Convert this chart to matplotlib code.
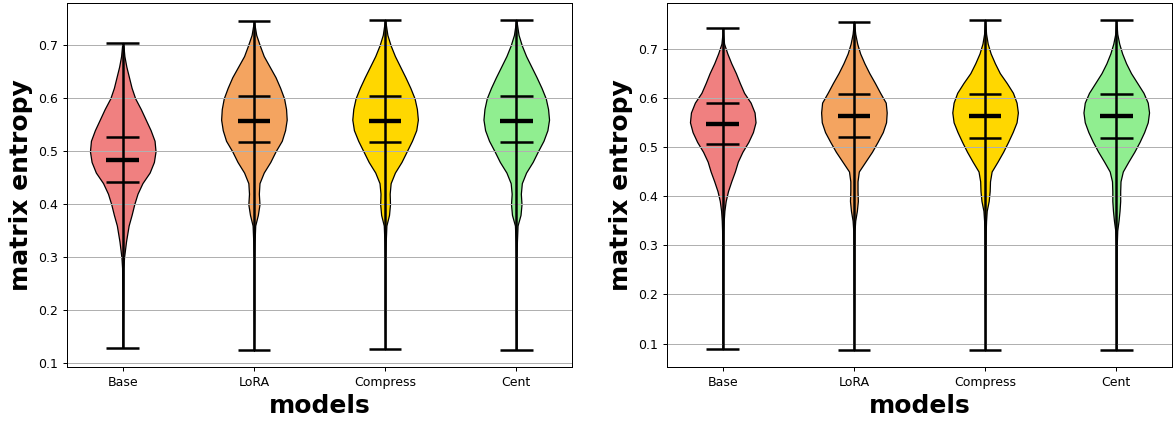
import numpy as np
import matplotlib
matplotlib.use("Agg")
import matplotlib.pyplot as plt

models = ["Base", "LoRA", "Compress", "Cent"]
colors = ["lightcoral", "sandybrown", "gold", "lightgreen"]

# ---- left panel: density profile (relative width) ----
left_coords = [0.125, 0.20, 0.28, 0.30, 0.33, 0.36, 0.38, 0.40, 0.42, 0.44, 0.46, 0.48,
               0.50, 0.52, 0.54, 0.56, 0.58, 0.60, 0.62, 0.64, 0.66, 0.68, 0.70, 0.72, 0.75]
left_base = [0.0, 0.01, 0.02, 0.04, 0.10, 0.18, 0.27, 0.35, 0.45, 0.60, 0.82, 0.95,
             1.00, 0.97, 0.85, 0.70, 0.55, 0.38, 0.27, 0.19, 0.11, 0.05, 0.02, 0.0, 0.0]
left_lora = [0.0, 0.01, 0.01, 0.01, 0.02, 0.04, 0.12, 0.17, 0.15, 0.17, 0.30, 0.50,
             0.66, 0.85, 0.95, 1.00, 0.98, 0.92, 0.80, 0.66, 0.48, 0.30, 0.18, 0.07, 0.0]
left_comp = [0.0, 0.01, 0.01, 0.01, 0.02, 0.04, 0.12, 0.15, 0.14, 0.17, 0.30, 0.50,
             0.66, 0.82, 0.95, 1.00, 0.97, 0.90, 0.77, 0.62, 0.46, 0.30, 0.17, 0.07, 0.0]
left_cent = [0.0, 0.01, 0.01, 0.01, 0.02, 0.04, 0.13, 0.16, 0.14, 0.17, 0.30, 0.50,
             0.66, 0.83, 0.95, 1.00, 0.97, 0.90, 0.77, 0.62, 0.46, 0.30, 0.17, 0.07, 0.0]
left_min = [0.129, 0.124, 0.126, 0.125]
left_max = [0.705, 0.746, 0.749, 0.749]
left_q1 = [0.442, 0.517, 0.517, 0.517]
left_med = [0.484, 0.558, 0.558, 0.558]
left_q3 = [0.527, 0.604, 0.604, 0.604]

# ---- right panel ----
right_coords = [0.086, 0.20, 0.30, 0.33, 0.35, 0.37, 0.39, 0.41, 0.43, 0.45, 0.47, 0.49,
                0.51, 0.53, 0.55, 0.57, 0.59, 0.61, 0.63, 0.65, 0.67, 0.69, 0.71, 0.73, 0.76]
right_base = [0.0, 0.01, 0.015, 0.02, 0.03, 0.05, 0.09, 0.16, 0.26, 0.37, 0.46, 0.60,
              0.78, 0.92, 1.00, 0.97, 0.85, 0.65, 0.52, 0.40, 0.26, 0.14, 0.04, 0.01, 0.0]
right_lora = [0.0, 0.01, 0.015, 0.02, 0.04, 0.09, 0.12, 0.11, 0.11, 0.15, 0.35, 0.55,
              0.72, 0.88, 0.98, 1.00, 0.97, 0.80, 0.64, 0.47, 0.32, 0.19, 0.10, 0.04, 0.0]
right_comp = [0.0, 0.01, 0.015, 0.02, 0.03, 0.05, 0.11, 0.14, 0.15, 0.20, 0.38, 0.55,
              0.70, 0.84, 0.96, 1.00, 0.96, 0.85, 0.66, 0.45, 0.30, 0.17, 0.08, 0.03, 0.0]
right_cent = [0.0, 0.01, 0.015, 0.03, 0.07, 0.10, 0.12, 0.12, 0.13, 0.20, 0.37, 0.55,
              0.71, 0.85, 0.96, 1.00, 0.96, 0.83, 0.64, 0.45, 0.30, 0.18, 0.09, 0.03, 0.0]
right_min = [0.088, 0.086, 0.086, 0.086]
right_max = [0.742, 0.755, 0.759, 0.758]
right_q1 = [0.506, 0.520, 0.519, 0.519]
right_med = [0.547, 0.562, 0.562, 0.562]
right_q3 = [0.589, 0.608, 0.608, 0.608]


def make_stats(coords, profiles, mins, maxs, q1, med, q3):
    stats = []
    c = np.array(coords)
    for i in range(len(profiles)):
        v = np.array(profiles[i])
        # keep the body between this violin's own min and max
        keep = (c > mins[i]) & (c < maxs[i])
        stats.append({
            "coords": np.concatenate([[mins[i]], c[keep], [maxs[i]]]),
            "vals": np.concatenate([[0.0], v[keep], [0.0]]),
            "mean": med[i],
            "median": med[i],
            "min": mins[i],
            "max": maxs[i],
            "quantiles": np.array([q1[i], q3[i]]),
        })
    return stats


def draw(ax, stats):
    pos = np.arange(1, len(models) + 1)
    parts = ax.violin(stats, positions=pos, widths=0.5,
                      showmeans=False, showextrema=True, showmedians=True)
    for body, c in zip(parts["bodies"], colors):
        body.set_facecolor(c)
        body.set_edgecolor("black")
        body.set_linewidth(1)
        body.set_alpha(1)
    for key in ["cbars", "cmins", "cmaxes"]:
        parts[key].set_color("black")
        parts[key].set_linewidth(2)
    parts["cmedians"].set_color("black")
    parts["cmedians"].set_linewidth(3.5)
    parts["cquantiles"].set_color("black")
    parts["cquantiles"].set_linewidth(2)
    ax.yaxis.grid(True)
    ax.set_xticks(pos)
    ax.set_xticklabels(models)
    ax.set_yticks([0.1, 0.2, 0.3, 0.4, 0.5, 0.6, 0.7])
    ax.set_xlabel("models", fontsize=20, fontweight="bold")
    ax.set_ylabel("matrix entropy", fontsize=20, fontweight="bold")


fig = plt.figure(figsize=(1173 / 90, 423 / 90), dpi=90)
ax1 = fig.add_axes([67 / 1173, 56 / 423, 505 / 1173, 364 / 423])
ax2 = fig.add_axes([667 / 1173, 56 / 423, 505 / 1173, 364 / 423])

draw(ax1, make_stats(left_coords, [left_base, left_lora, left_comp, left_cent],
                     left_min, left_max, left_q1, left_med, left_q3))
draw(ax2, make_stats(right_coords, [right_base, right_lora, right_comp, right_cent],
                     right_min, right_max, right_q1, right_med, right_q3))

fig.savefig("out.png", dpi=90)
